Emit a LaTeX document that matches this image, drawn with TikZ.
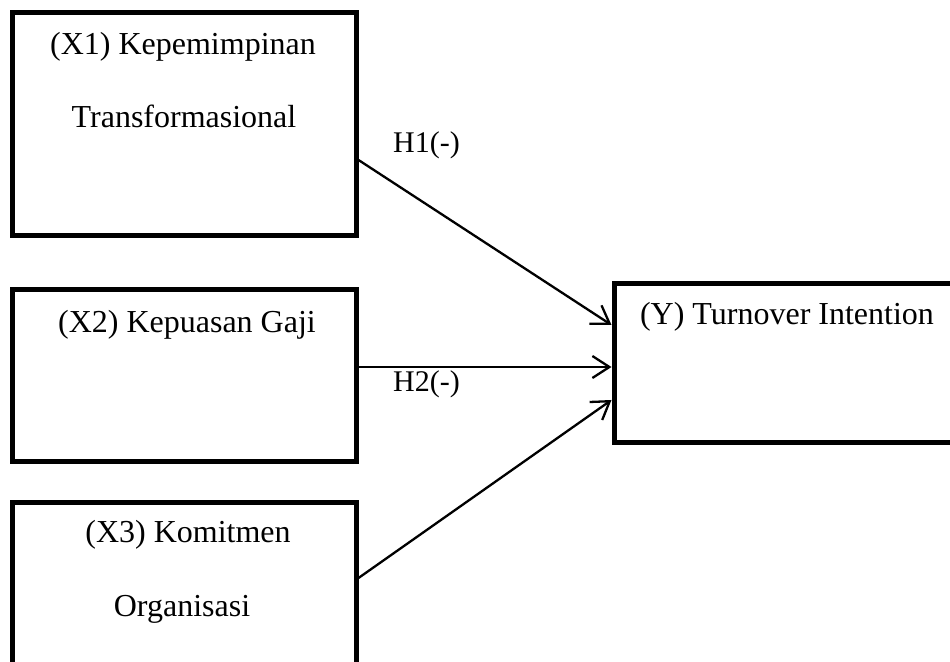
\documentclass[tikz,border=0pt]{standalone}
\usepackage{fontspec}
\setmainfont{Liberation Serif}
\usetikzlibrary{arrows.meta}
\begin{document}
\begin{tikzpicture}[x=1pt,y=1pt,
  box/.style={draw,line width=5pt,inner sep=0pt},
  lbl/.style={anchor=base,inner sep=0pt,font=\fontsize{32}{38}\selectfont},
  hyp/.style={anchor=base west,inner sep=0pt,font=\fontsize{30}{36}\selectfont},
  link/.style={line width=2.3pt,-{Straight Barb[length=17pt,width=22pt]}}]
\fill[white] (0,0) rectangle (950,661);
\clip (0,0) rectangle (950,661);
% boxes
\node[box,minimum width=343.5pt,minimum height=223pt] (x1) at (184.25,536.5) {};
\node[box,minimum width=343.5pt,minimum height=172pt] (x2) at (184.25,285) {};
\node[box,minimum width=343.5pt,minimum height=223pt] (x3) at (184.25,46.5) {};
\node[box,minimum width=386pt,minimum height=159pt] (y) at (807,297.5) {};
% texts
\node[lbl] (t1a) at (183,606) {(X1) Kepemimpinan};
\node[lbl] (t1b) at (184,533) {Transformasional};
\node[lbl] (t2) at (187,328) {(X2) Kepuasan Gaji};
\node[lbl] (t3a) at (188,118) {(X3) Komitmen};
\node[lbl] (t3b) at (182,44) {Organisasi};
\node[lbl] (ty) at (787,336) {(Y) Turnover Intention};
\node[hyp] (h1) at (393,508) {H1(-)};
\node[hyp] (h2) at (393,269) {H2(-)};
% connectors
\draw[link] ([yshift=-35.5pt]x1.east) -- ([yshift=38.5pt]y.west);
\draw[link] ([yshift=9pt]x2.east) -- ([yshift=-3.5pt]y.west);
\draw[link] ([yshift=36.5pt]x3.east) -- ([yshift=-36.5pt]y.west);
\end{tikzpicture}
\end{document}
